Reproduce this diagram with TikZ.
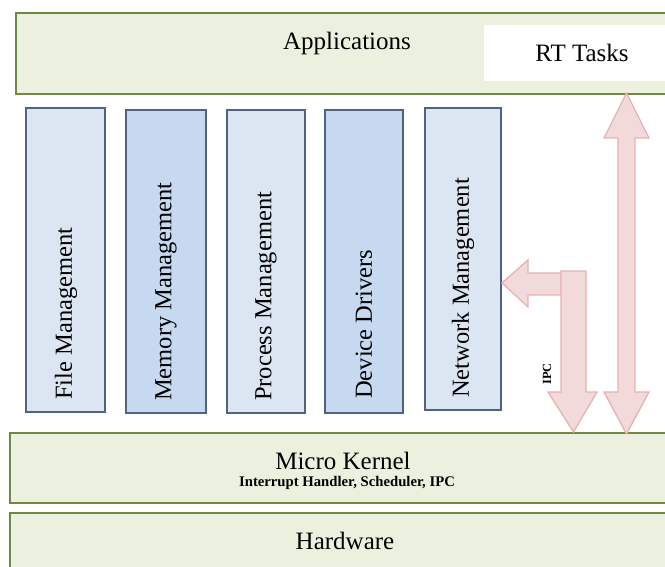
\documentclass[tikz,border=0pt]{standalone}
\usepackage{fontspec}
\setmainfont{Liberation Serif}
\definecolor{layerfill}{RGB}{235,241,222}
\definecolor{layerline}{RGB}{112,136,66}
\definecolor{modlight}{RGB}{220,230,242}
\definecolor{moddark}{RGB}{198,217,241}
\definecolor{modline}{RGB}{80,100,130}
\definecolor{arrowfill}{RGB}{242,218,218}
\definecolor{arrowline}{RGB}{230,178,178}
\tikzset{
  layer/.style={draw=layerline, line width=2pt, fill=layerfill, inner sep=0pt},
  module/.style={draw=modline, line width=1.8pt, inner sep=0pt, minimum height=303pt},
  modtext/.style={rotate=90, anchor=west, inner sep=0pt, font=\fontsize{24.5}{28}\selectfont},
  bigtext/.style={inner sep=0pt, font=\fontsize{25}{30}\selectfont},
  blockarrow/.style={draw=arrowline, line width=1.3pt, fill=arrowfill, line join=miter}
}
\begin{document}
\begin{tikzpicture}[x=1pt,y=-1pt]
\useasboundingbox (0,0) rectangle (665,567);
\clip (0,0) rectangle (665,567);

% layers
\node[layer, minimum width=664pt, minimum height=81pt] (apps) at (348,53.5) {};
\node[fill=white, inner sep=0pt, minimum width=184pt, minimum height=56pt] (rt) at (576,53) {};
\node[layer, minimum width=670pt, minimum height=70pt] (kernel) at (345,468) {};
\node[layer, minimum width=670pt, minimum height=87pt] (hw) at (345,556.5) {};

\node[bigtext] (appstext) at (347,43) {Applications};
\node[bigtext] (rttext) at (582,53) {RT Tasks};
\node[bigtext] (kerneltext) at (343,461) {Micro Kernel};
\node[inner sep=0pt, font=\fontsize{14.7}{16}\selectfont\bfseries] (kernelsub) at (347,483) {Interrupt Handler, Scheduler, IPC};
\node[bigtext] (hwtext) at (345,541) {Hardware};

% system modules
\node[module, fill=modlight, minimum width=79pt, minimum height=304pt] (file) at (65.5,260) {};
\node[module, fill=moddark,  minimum width=80pt] (mem)  at (166,261.5) {};
\node[module, fill=modlight, minimum width=78pt] (proc) at (266,261.5) {};
\node[module, fill=moddark,  minimum width=78pt] (dev)  at (364,261.5) {};
\node[module, fill=modlight, minimum width=76pt, minimum height=302pt] (net) at (463,259) {};

\node[modtext] at (66,400) {File Management};
\node[modtext] at (166,401) {Memory Management};
\node[modtext] at (266,401) {Process Management};
\node[modtext] at (364,399) {Device Drivers};
\node[modtext] at (463,398) {Network Management};

% RT tasks <-> kernel
\draw[blockarrow] (626.5,93) -- (649,138) -- (635,138) -- (635,392) -- (649,392)
  -- (626.5,434) -- (604,392) -- (618,392) -- (618,138) -- (604,138) -- cycle;

% IPC: kernel -> network management
\draw[blockarrow] (502,283) -- (528,260) -- (528,273) -- (565,273) -- (565,295)
  -- (528,295) -- (528,307) -- cycle;
\draw[blockarrow] (561,271) -- (586,271) -- (586,392) -- (597,392) -- (573.5,432)
  -- (548,392) -- (561,392) -- cycle;
\node[rotate=90, inner sep=0pt, font=\fontsize{12.5}{14}\selectfont\bfseries] (ipc) at (547,374) {IPC};
\end{tikzpicture}
\end{document}
